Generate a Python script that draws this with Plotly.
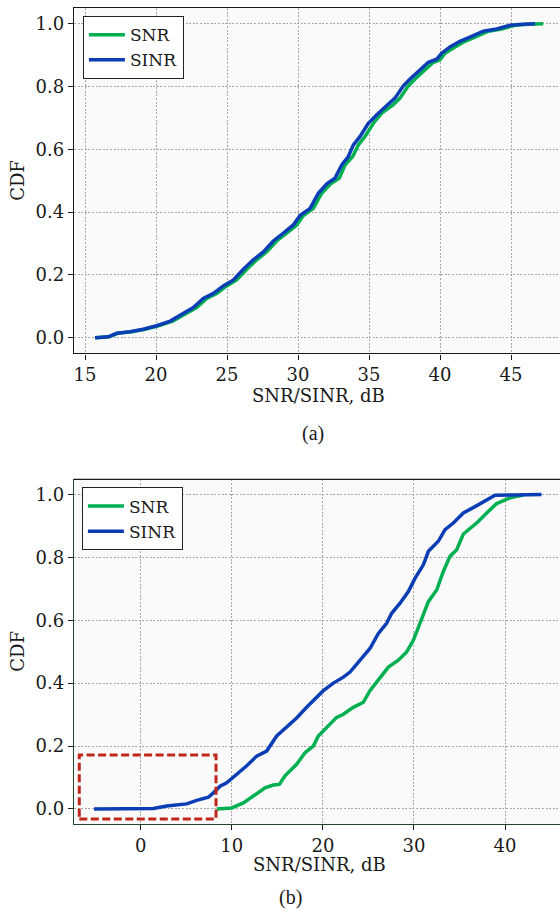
import plotly.graph_objects as go

# ---------------- data ----------------
series_names = ["SNR", "SINR"]
panel_labels = ["(a)", "(b)"]
x_label = "SNR/SINR, dB"
y_label = "CDF"

# Panel (a)
a_snr_x = [15.77, 16.71, 17.30, 18.29, 19.23, 20.16, 21.17, 21.92, 22.86, 23.57, 24.27, 24.98,
           25.68, 26.39, 27.09, 27.79, 28.50, 29.20, 29.91, 30.38, 31.08, 31.67, 32.30, 32.91,
           33.31, 33.85, 34.25, 34.72, 35.31, 35.90, 36.71, 37.18, 37.77, 38.24, 38.94, 39.53,
           40.00, 40.35, 41.06, 41.76, 42.46, 43.40, 44.34, 45.28, 46.20, 47.27]
a_snr_y = [0.000, 0.003, 0.014, 0.019, 0.027, 0.038, 0.053, 0.072, 0.096, 0.125, 0.141, 0.165,
           0.184, 0.218, 0.248, 0.273, 0.308, 0.333, 0.359, 0.389, 0.412, 0.460, 0.490, 0.508,
           0.550, 0.577, 0.614, 0.641, 0.683, 0.715, 0.742, 0.763, 0.802, 0.824, 0.853, 0.877,
           0.885, 0.906, 0.926, 0.944, 0.957, 0.976, 0.983, 0.995, 0.998, 1.000]
a_sinr_x = [15.70, 16.64, 17.23, 18.17, 19.10, 20.05, 21.00, 21.70, 22.63, 23.33, 24.04, 24.74,
            25.45, 26.15, 26.85, 27.56, 28.26, 28.97, 29.67, 30.14, 30.85, 31.43, 32.03, 32.60,
            33.08, 33.54, 33.90, 34.37, 34.95, 35.66, 36.36, 36.83, 37.42, 37.89, 38.60, 39.18,
            39.77, 40.12, 40.70, 41.40, 42.10, 43.05, 43.99, 44.93, 45.87, 46.69]
a_sinr_y = [0.000, 0.003, 0.014, 0.019, 0.027, 0.038, 0.053, 0.072, 0.096, 0.125, 0.141, 0.165,
            0.184, 0.218, 0.248, 0.273, 0.308, 0.333, 0.359, 0.389, 0.412, 0.460, 0.490, 0.508,
            0.550, 0.577, 0.614, 0.641, 0.683, 0.715, 0.742, 0.763, 0.802, 0.824, 0.853, 0.877,
            0.887, 0.906, 0.926, 0.944, 0.957, 0.976, 0.983, 0.995, 0.998, 1.000]

# Panel (b)
b_snr_x = [8.34, 9.99, 11.27, 12.37, 13.65, 14.56, 15.22, 15.84, 17.12, 18.04, 18.95, 19.50,
           20.42, 21.51, 22.25, 23.34, 24.44, 25.17, 25.90, 27.19, 28.28, 29.20, 29.93, 30.29,
           30.85, 31.58, 32.49, 33.22, 33.96, 34.69, 35.42, 36.88, 37.98, 39.08, 40.54, 42.00]
b_snr_y = [0.000, 0.003, 0.019, 0.041, 0.067, 0.076, 0.078, 0.105, 0.142, 0.179, 0.200, 0.232,
           0.259, 0.291, 0.301, 0.323, 0.339, 0.376, 0.403, 0.451, 0.473, 0.499, 0.536, 0.563,
           0.600, 0.659, 0.696, 0.755, 0.803, 0.824, 0.874, 0.909, 0.941, 0.971, 0.989, 0.998]
b_sinr_x = [-5.12, -2.27, 1.39, 2.85, 5.05, 6.15, 7.43, 7.98, 8.71, 9.44, 10.54, 11.64, 12.73,
            13.83, 14.93, 16.03, 17.12, 18.22, 18.95, 20.05, 21.15, 22.25, 22.98, 24.08, 25.17,
            26.09, 27.00, 27.55, 28.47, 29.38, 30.11, 31.03, 31.58, 32.67, 33.41, 34.32, 35.42,
            36.70, 37.80, 38.90, 40.90, 44.00]
b_sinr_y = [0.000, 0.000, 0.001, 0.009, 0.016, 0.027, 0.037, 0.051, 0.072, 0.083, 0.110, 0.137,
            0.168, 0.184, 0.232, 0.261, 0.289, 0.323, 0.344, 0.376, 0.400, 0.419, 0.435, 0.473,
            0.510, 0.558, 0.590, 0.622, 0.654, 0.691, 0.733, 0.776, 0.819, 0.851, 0.888, 0.909,
            0.941, 0.961, 0.979, 0.997, 0.998, 1.000]

# highlighted region in panel (b)
box_x = [-6.74, 8.27]
box_y = [-0.032, 0.171]

x_ticks_a = [15, 20, 25, 30, 35, 40, 45]
x_ticks_b = [0, 10, 20, 30, 40]
y_ticks = [0.0, 0.2, 0.4, 0.6, 0.8, 1.0]

# ---------------- styling ----------------
W, H = 560, 910
ML, MR, MT, MB = 74, 0, 8, 86
PW = W - ML - MR
PH = H - MT - MB


def px2x(px):
    return (px - ML) / PW


def px2y(py):
    return (H - MB - py) / PH


GREEN = "#00b050"
BLUE = "#0b3db4"
FONT = "DejaVu Serif"
CAP_FONT = "Liberation Serif"
TXT = "#1a1a1a"

fig = go.Figure()

colors = [GREEN, BLUE]
panels = [
    ("x", "y", "legend", [(a_snr_x, a_snr_y), (a_sinr_x, a_sinr_y)]),
    ("x2", "y2", "legend2", [(b_snr_x, b_snr_y), (b_sinr_x, b_sinr_y)]),
]
for xa, ya, lg, series in panels:
    for (xs, ys), name, col in zip(series, series_names, colors):
        fig.add_trace(go.Scatter(
            x=xs, y=ys, mode="lines", name=name, xaxis=xa, yaxis=ya, legend=lg,
            line=dict(color=col, width=3.5),
        ))

common_axis = dict(
    showline=True, linewidth=1.3, ticks="outside", ticklen=5, tickwidth=1.2,
    tickcolor=TXT, showgrid=True, gridcolor="#a8a8a8", gridwidth=0.8,
    griddash="2px,1.6px", zeroline=False,
    tickfont=dict(family=FONT, size=18, color=TXT),
)

top_dom = [px2y(353.4), 1.0]
bot_dom = [0.0, px2y(479.3)]

legend_style = dict(xanchor="left", yanchor="top", bgcolor="white",
                    bordercolor="#222", borderwidth=1.2,
                    font=dict(family=FONT, size=17, color=TXT),
                    itemwidth=36, tracegroupgap=0)

fig.update_layout(
    width=W, height=H,
    margin=dict(l=ML, r=MR, t=MT, b=MB),
    paper_bgcolor="white",
    plot_bgcolor="#fafafa",
    showlegend=True,
    xaxis=dict(common_axis, domain=[0, 1], anchor="y", range=[14.225, 48.45],
               tickvals=x_ticks_a, ticktext=[str(v) for v in x_ticks_a],
               linecolor=TXT, mirror=True),
    yaxis=dict(common_axis, domain=top_dom, anchor="x", range=[-0.05, 1.05],
               tickvals=y_ticks, ticktext=[f"{v:.1f}" for v in y_ticks],
               linecolor=TXT, mirror=False),
    xaxis2=dict(common_axis, domain=[0, 1], anchor="y2", range=[-7.32, 46.03],
                tickvals=x_ticks_b, ticktext=[str(v) for v in x_ticks_b],
                linecolor="#1d4a2a", mirror=False),
    yaxis2=dict(common_axis, domain=bot_dom, anchor="x2", range=[-0.048, 1.048],
                tickvals=y_ticks, ticktext=[f"{v:.1f}" for v in y_ticks],
                linecolor="#1d4a2a", mirror=False),
    legend=dict(legend_style, x=px2x(82.7), y=px2y(16)),
    legend2=dict(legend_style, x=px2x(81.7), y=px2y(487.3)),
)

# top spine of panel (b)
fig.add_shape(type="line", xref="paper", yref="paper", x0=0, x1=1,
              y0=px2y(479.3), y1=px2y(479.3), line=dict(color=TXT, width=1.3))

# highlight box
fig.add_shape(type="rect", xref="x2", yref="y2", x0=box_x[0], x1=box_x[1],
              y0=box_y[0], y1=box_y[1],
              line=dict(color="#c0271b", width=3, dash="8px,3.5px"))

ann = []
for cy in [(8.3 + 353.4) / 2, (479.3 + 824) / 2]:
    ann.append(dict(text=y_label, x=px2x(18), y=px2y(cy), textangle=-90,
                    font=dict(family=FONT, size=18, color=TXT)))
ann.append(dict(text=x_label, x=px2x(318), y=px2y(395),
                font=dict(family=FONT, size=18, color=TXT)))
ann.append(dict(text=x_label, x=px2x(319), y=px2y(864),
                font=dict(family=FONT, size=18, color=TXT)))
ann.append(dict(text=panel_labels[0], x=px2x(313), y=px2y(434),
                font=dict(family=CAP_FONT, size=20, color=TXT)))
ann.append(dict(text=panel_labels[1], x=px2x(290), y=px2y(898),
                font=dict(family=CAP_FONT, size=20, color=TXT)))
for a in ann:
    fig.add_annotation(xref="paper", yref="paper", showarrow=False,
                       xanchor="center", yanchor="middle", **a)

fig.write_html(
    "out.html",
    config={"displayModeBar": False},
    post_script="document.body.style.margin='0';document.body.style.padding='0';"
                "document.documentElement.style.overflow='hidden';",
)
